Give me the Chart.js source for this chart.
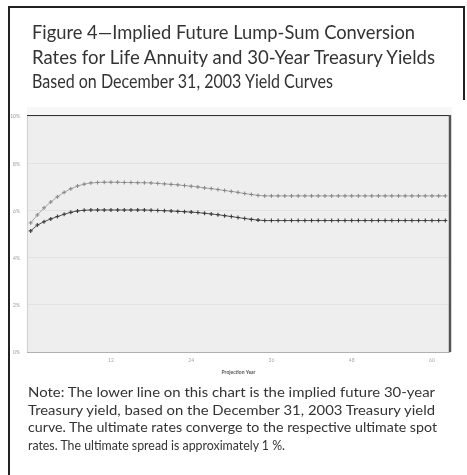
<!DOCTYPE html>
<html>
<head>
<meta charset="utf-8">
<script src="https://cdn.jsdelivr.net/npm/chart.js@4/dist/chart.umd.min.js"></script>
<style>
  html, body { margin: 0; padding: 0; background: #fff; }
  #page { position: relative; width: 467px; height: 475px; overflow: hidden; font-family: Lato, "Open Sans", sans-serif; color: #333; }
  .line { position: absolute; white-space: nowrap; transform-origin: 0 0; font-weight: 400; z-index: 2; }
  .title { font-size: 18.5px; line-height: 18.5px; left: 32px; }
  .note { font-size: 13.5px; line-height: 13.5px; left: 28px; }
  #chart { position: absolute; left: 0; top: 0; z-index: 1; }
</style>
</head>
<body>
<div id="page">
  <canvas id="chart" width="467" height="475"></canvas>

  <div class="line title" style="top:23px" data-w="383">Figure 4—Implied Future Lump-Sum Conversion</div>
  <div class="line title" style="top:47.5px" data-w="403">Rates for Life Annuity and 30-Year Treasury Yields</div>
  <div class="line title" style="top:72px" data-w="301">Based on December 31, 2003 Yield Curves</div>

  <div class="line note" style="top:386px" data-w="407">Note: The lower line on this chart is the implied future 30-year</div>
  <div class="line note" style="top:403.5px" data-w="407">Treasury yield, based on the December 31, 2003 Treasury yield</div>
  <div class="line note" style="top:421px" data-w="409">curve. The ultimate rates converge to the respective ultimate spot</div>
  <div class="line note" style="top:438.5px" data-w="257">rates. The ultimate spread is approximately 1 %.</div>
</div>

<script>
// projection years 0..62
const years = [0, 1, 2, 3, 4, 5, 6, 7, 8, 9, 10, 11, 12, 13, 14, 15, 16, 17, 18, 19, 20,
  21, 22, 23, 24, 25, 26, 27, 28, 29, 30, 31, 32, 33, 34, 35, 36, 37, 38, 39, 40, 41,
  42, 43, 44, 45, 46, 47, 48, 49, 50, 51, 52, 53, 54, 55, 56, 57, 58, 59, 60, 61, 62];

// upper line: lump-sum conversion rate for life annuity (%)
const annuityRates = [5.49, 5.83, 6.13, 6.38, 6.60, 6.79, 6.94, 7.06, 7.14, 7.19, 7.21,
  7.22, 7.22, 7.22, 7.21, 7.21, 7.20, 7.20, 7.19, 7.17, 7.15, 7.13, 7.11, 7.08, 7.05,
  7.02, 6.98, 6.95, 6.91, 6.87, 6.83, 6.79, 6.74, 6.70, 6.66, 6.64, 6.64, 6.64, 6.64,
  6.64, 6.64, 6.64, 6.64, 6.64, 6.64, 6.64, 6.64, 6.64, 6.64, 6.64, 6.64, 6.64, 6.64,
  6.64, 6.64, 6.64, 6.64, 6.64, 6.64, 6.64, 6.64, 6.64, 6.64];

// lower line: implied future 30-year Treasury yield (%)
const treasuryYields = [5.15, 5.40, 5.54, 5.66, 5.76, 5.86, 5.94, 6.00, 6.03, 6.04, 6.04,
  6.04, 6.04, 6.04, 6.04, 6.04, 6.04, 6.04, 6.03, 6.02, 6.01, 6.00, 5.98, 5.97, 5.95,
  5.93, 5.90, 5.87, 5.84, 5.80, 5.76, 5.72, 5.68, 5.64, 5.61, 5.59, 5.59, 5.59, 5.59,
  5.59, 5.59, 5.59, 5.59, 5.59, 5.59, 5.59, 5.59, 5.59, 5.59, 5.59, 5.59, 5.59, 5.59,
  5.59, 5.59, 5.59, 5.59, 5.59, 5.59, 5.59, 5.59, 5.59, 5.59];

const xTicks = [12, 24, 36, 48, 60];
const yTicks = [0, 2, 4, 6, 8, 10];

// squeeze each text line to the width it has in the figure
function fitLines() {
    document.querySelectorAll('.line').forEach(function (el) {
        el.style.transform = 'none';
        const w = el.getBoundingClientRect().width;
        const target = parseFloat(el.dataset.w);
        el.style.transform = 'scaleX(' + (target / w) + ')';
    });
}
fitLines();
if (document.fonts) document.fonts.ready.then(fitLines);

const plotFrame = {
    id: 'plotFrame',
    beforeDraw(chart) {
        const a = chart.chartArea, ctx = chart.ctx;
        ctx.save();
        // outer figure frame (left, top, short right edge)
        ctx.strokeStyle = '#222';
        ctx.lineWidth = 2;
        ctx.beginPath();
        ctx.moveTo(9, 475); ctx.lineTo(9, 7); ctx.lineTo(464, 7); ctx.lineTo(464, 100);
        ctx.stroke();
        // faint band just above the plot
        ctx.fillStyle = '#f7f7f7';
        ctx.fillRect(a.left, a.top - 8, a.right - a.left + 2, 8);
        ctx.fillStyle = '#eeeeee';
        ctx.fillRect(a.left, a.top, a.right - a.left, a.bottom - a.top);
        ctx.restore();
    },
    afterDraw(chart) {
        const a = chart.chartArea, ctx = chart.ctx;
        ctx.save();
        ctx.lineWidth = 1;
        ctx.strokeStyle = '#cfcfcf';
        ctx.beginPath(); ctx.moveTo(a.left + 0.5, a.top); ctx.lineTo(a.left + 0.5, a.bottom); ctx.stroke();
        ctx.strokeStyle = '#b0b0b0';
        ctx.beginPath(); ctx.moveTo(a.left, a.bottom + 0.5); ctx.lineTo(a.right, a.bottom + 0.5); ctx.stroke();
        ctx.strokeStyle = '#333';
        ctx.beginPath(); ctx.moveTo(a.left, a.top + 0.5); ctx.lineTo(a.right + 1, a.top + 0.5); ctx.stroke();
        ctx.strokeStyle = '#555';
        ctx.lineWidth = 2.5;
        ctx.beginPath(); ctx.moveTo(a.right, a.top); ctx.lineTo(a.right, a.bottom); ctx.stroke();
        ctx.restore();
    }
};

new Chart(document.getElementById('chart'), {
    type: 'line',
    data: {
        labels: years,
        datasets: [
            {
                label: 'Life Annuity',
                data: annuityRates,
                borderColor: '#a5a5a5',
                borderWidth: 1,
                pointStyle: 'cross',
                pointRadius: 2,
                pointBorderWidth: 1,
                pointBorderColor: '#858585',
                pointBackgroundColor: '#858585',
            },
            {
                label: '30-Year Treasury',
                data: treasuryYields,
                borderColor: '#555',
                borderWidth: 1,
                pointStyle: 'cross',
                pointRadius: 2,
                pointBorderWidth: 1.1,
                pointBorderColor: '#3a3a3a',
                pointBackgroundColor: '#3a3a3a',
            }
        ]
    },
    options: {
        responsive: false,
        animation: false,
        // plot area: x 27..450, y 115..352
        layout: { padding: { left: 0, right: 17, top: 115, bottom: 90 } },
        plugins: {
            legend: { display: false },
            tooltip: { enabled: false },
        },
        scales: {
            x: {
                type: 'linear',
                min: -0.55,
                max: 62.7,
                afterBuildTicks: function (axis) { axis.ticks = xTicks.map(function (v) { return { value: v }; }); },
                afterFit: function (axis) { axis.height = 33; },
                grid: { display: false, drawTicks: false },
                border: { display: false },
                ticks: { padding: 5, color: '#a8a8a8', font: { family: 'Lato', size: 5 } },
                title: {
                    display: true,
                    text: 'Projection Year',
                    color: '#555',
                    font: { family: 'Lato', size: 5, weight: 'bold' },
                    padding: { top: 0, bottom: 10 },
                },
            },
            y: {
                min: 0,
                max: 10.08,
                afterBuildTicks: function (axis) { axis.ticks = yTicks.map(function (v) { return { value: v }; }); },
                afterFit: function (axis) { axis.width = 27; },
                grid: { color: '#e2e2e2', drawTicks: false },
                border: { display: false },
                ticks: {
                    padding: 7,
                    color: '#9a9a9a',
                    font: { family: 'Lato', size: 5 },
                    callback: function (v) { return v + '%'; },
                },
            },
        },
    },
    plugins: [plotFrame],
});
</script>
</body>
</html>
